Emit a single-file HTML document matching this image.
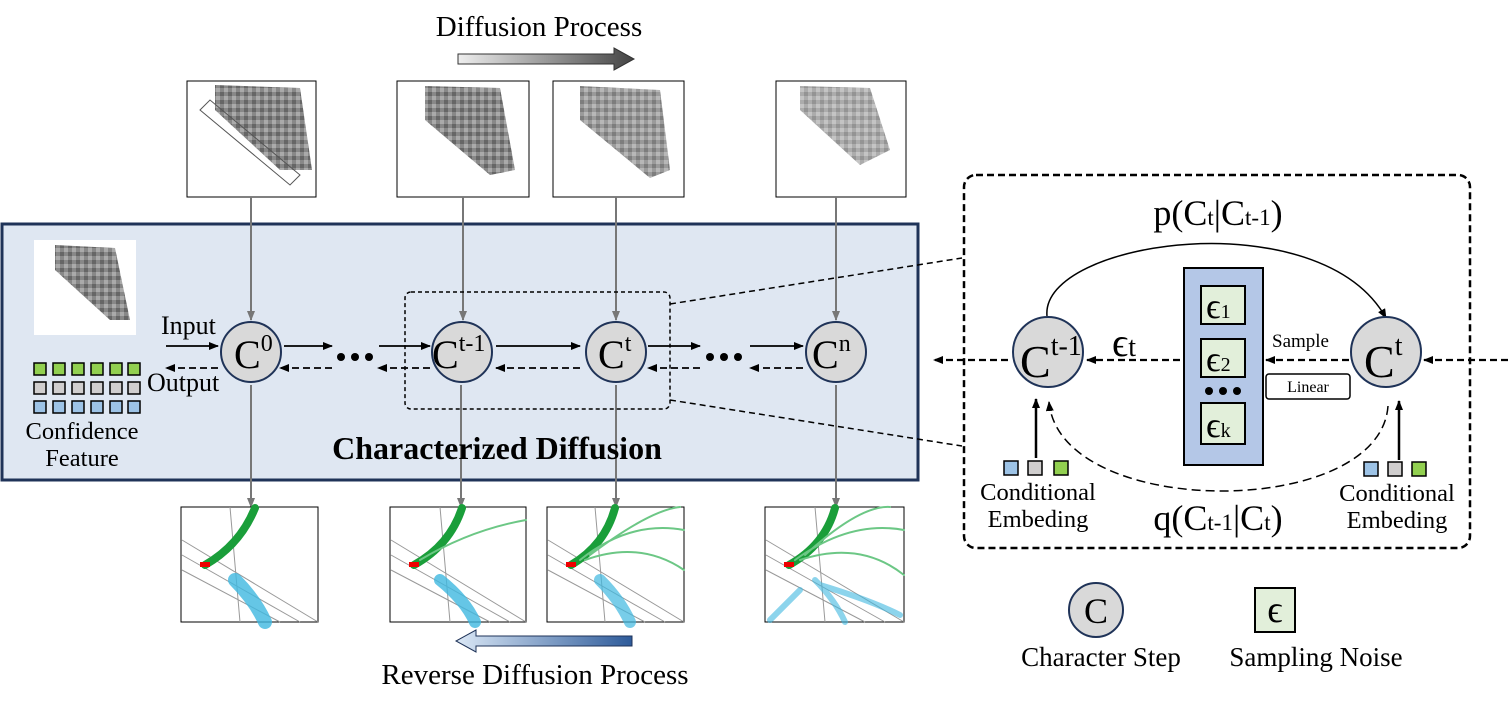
<!DOCTYPE html>
<html><head><meta charset="utf-8"><style>
html,body{margin:0;padding:0;background:#fff}
svg{display:block}
text{font-family:"Liberation Serif",serif;fill:#000}
</style></head><body>
<svg width="1508" height="710" viewBox="0 0 1508 710" xmlns="http://www.w3.org/2000/svg">
<defs>
<marker id="ah" markerWidth="10" markerHeight="8" refX="9" refY="4" orient="auto" markerUnits="userSpaceOnUse"><path d="M0,0 L10,4 L0,8 Z" fill="#000"/></marker>
<marker id="ag" markerWidth="10" markerHeight="8" refX="9" refY="4" orient="auto" markerUnits="userSpaceOnUse"><path d="M0,0 L10,4 L0,8 Z" fill="#777"/></marker>
<linearGradient id="g1" x1="0" x2="1"><stop offset="0" stop-color="#eee"/><stop offset="1" stop-color="#444"/></linearGradient>
<linearGradient id="g2" x1="0" x2="1"><stop offset="0" stop-color="#dbe8f6"/><stop offset="1" stop-color="#2e5b9a"/></linearGradient>
<pattern id="pm" width="8" height="8" patternUnits="userSpaceOnUse"><rect width="8" height="8" fill="#888"/><rect width="4" height="4" fill="#aaa"/><rect x="4" y="4" width="4" height="4" fill="#666"/></pattern>
</defs>

<text x="539" y="36" font-size="29" text-anchor="middle">Diffusion Process</text>
<path d="M458,54 H614 V48 L634,59 L614,70 V64 H458 Z" fill="url(#g1)" stroke="#333"/>

<g stroke="#000" fill="#fff">
<rect x="187" y="81" width="129" height="116"/>
<rect x="397" y="81" width="132" height="116"/>
<rect x="553" y="81" width="131" height="116"/>
<rect x="776" y="81" width="130" height="116"/>
</g>
<polygon points="215,85 300,88 312,170 280,170 215,110" fill="url(#pm)"/>
<polygon points="200,110 290,185 300,175 210,100" fill="none" stroke="#555"/>
<polygon points="425,86 500,88 515,170 490,175 425,120" fill="url(#pm)"/>
<polygon points="580,86 660,90 670,170 650,178 580,120" fill="url(#pm)" opacity="0.85"/>
<polygon points="800,86 870,88 890,150 860,165 800,110" fill="url(#pm)" opacity="0.7"/>

<rect x="2" y="224" width="916" height="256" fill="#dfe7f2" stroke="#1f3358" stroke-width="3"/>
<rect x="34" y="240" width="102" height="95" fill="#fff"/>
<polygon points="55,245 115,248 130,320 110,320 55,270" fill="url(#pm)"/>

<g stroke="#777" stroke-width="2" marker-end="url(#ag)">
<line x1="251" y1="197" x2="251" y2="320"/>
<line x1="463" y1="197" x2="463" y2="320"/>
<line x1="616" y1="197" x2="616" y2="320"/>
<line x1="836" y1="197" x2="836" y2="320"/>
<line x1="251" y1="385" x2="251" y2="507"/>
<line x1="461" y1="385" x2="461" y2="507"/>
<line x1="616" y1="385" x2="616" y2="507"/>
<line x1="836" y1="385" x2="836" y2="507"/>
</g>

<g stroke="#000" stroke-width="1.5">
<g fill="#92d050"><rect x="34" y="363" width="12" height="12"/><rect x="53" y="363" width="12" height="12"/><rect x="72" y="363" width="12" height="12"/><rect x="91" y="363" width="12" height="12"/><rect x="110" y="363" width="12" height="12"/><rect x="128" y="363" width="12" height="12"/></g>
<g fill="#d0cece"><rect x="34" y="382" width="12" height="12"/><rect x="53" y="382" width="12" height="12"/><rect x="72" y="382" width="12" height="12"/><rect x="91" y="382" width="12" height="12"/><rect x="110" y="382" width="12" height="12"/><rect x="128" y="382" width="12" height="12"/></g>
<g fill="#9dc3e6"><rect x="34" y="401" width="12" height="12"/><rect x="53" y="401" width="12" height="12"/><rect x="72" y="401" width="12" height="12"/><rect x="91" y="401" width="12" height="12"/><rect x="110" y="401" width="12" height="12"/><rect x="128" y="401" width="12" height="12"/></g>
</g>
<text x="82" y="439" font-size="24.5" text-anchor="middle">Confidence</text>
<text x="82" y="466" font-size="24.5" text-anchor="middle">Feature</text>
<text x="161" y="334" font-size="26">Input</text>
<text x="147" y="391" font-size="26">Output</text>

<rect x="405" y="292" width="265" height="117" rx="6" fill="none" stroke="#000" stroke-width="1.5" stroke-dasharray="4,3"/>

<g stroke="#000" stroke-width="1.8" marker-end="url(#ah)">
<line x1="166" y1="346" x2="218" y2="346"/>
<line x1="284" y1="346" x2="332" y2="346"/>
<line x1="379" y1="346" x2="430" y2="346"/>
<line x1="496" y1="346" x2="580" y2="346"/>
<line x1="648" y1="346" x2="700" y2="346"/>
<line x1="750" y1="346" x2="803" y2="346"/>
</g>
<g stroke="#000" stroke-width="1.8" stroke-dasharray="7,4" marker-end="url(#ah)">
<line x1="218" y1="368" x2="166" y2="368"/>
<line x1="332" y1="368" x2="280" y2="368"/>
<line x1="430" y1="368" x2="378" y2="368"/>
<line x1="580" y1="368" x2="496" y2="368"/>
<line x1="700" y1="368" x2="648" y2="368"/>
<line x1="803" y1="368" x2="750" y2="368"/>
</g>
<g fill="#000"><circle cx="341" cy="357" r="4"/><circle cx="355" cy="357" r="4"/><circle cx="369" cy="357" r="4"/>
<circle cx="710" cy="357" r="4"/><circle cx="724" cy="357" r="4"/><circle cx="738" cy="357" r="4"/></g>

<g fill="#d9d9d9" stroke="#1f3358" stroke-width="2">
<circle cx="251" cy="352" r="30"/><circle cx="462" cy="352" r="30"/><circle cx="616" cy="352" r="30"/><circle cx="836" cy="352" r="30"/>
</g>
<text x="234" y="368" font-size="40">C<tspan font-size="24" dy="-17">0</tspan></text>
<text x="432" y="368" font-size="40">C<tspan font-size="24" dy="-17">t-1</tspan></text>
<text x="598" y="368" font-size="40">C<tspan font-size="24" dy="-17">t</tspan></text>
<text x="812" y="368" font-size="40">C<tspan font-size="24" dy="-17">n</tspan></text>
<text x="497" y="459" font-size="32" font-weight="bold" text-anchor="middle">Characterized Diffusion</text>

<g stroke="#000" fill="#fff">
<rect x="181" y="507" width="137" height="115"/>
<rect x="390" y="507" width="136" height="115"/>
<rect x="547" y="507" width="137" height="115"/>
<rect x="765" y="507" width="139" height="115"/>
</g>
<g stroke="#999" stroke-width="1" fill="none">
<path d="M182,540 L318,622 M182,555 L300,622 M182,570 L280,622 M230,507 L240,622"/>
<path d="M391,540 L526,622 M391,555 L510,622 M391,570 L490,622 M440,507 L450,622"/>
<path d="M548,540 L684,622 M548,555 L665,622 M548,570 L645,622 M595,507 L605,622"/>
<path d="M766,540 L904,622 M766,555 L885,622 M766,570 L865,622 M815,507 L825,622"/>
</g>
<g fill="none" stroke-linecap="round">
<path d="M205,565 Q240,545 255,508" stroke="#1a9e3a" stroke-width="8"/>
<path d="M235,580 Q255,600 265,622" stroke="#3fb8e0" stroke-width="14" opacity="0.8"/>
<path d="M414,565 Q450,545 462,508" stroke="#1a9e3a" stroke-width="8"/>
<path d="M420,560 Q470,530 526,520" stroke="#6cc785" stroke-width="2"/>
<path d="M440,580 Q465,600 475,622" stroke="#3fb8e0" stroke-width="12" opacity="0.8"/>
<path d="M571,565 Q605,545 615,508" stroke="#1a9e3a" stroke-width="8"/>
<path d="M580,560 Q630,520 684,530 M585,560 Q640,540 684,570 M590,555 Q650,510 680,507" stroke="#6cc785" stroke-width="2"/>
<path d="M600,580 Q620,600 630,622" stroke="#3fb8e0" stroke-width="12" opacity="0.7"/>
<path d="M789,565 Q825,545 835,508" stroke="#1a9e3a" stroke-width="8"/>
<path d="M795,560 Q850,520 904,530 M800,560 Q860,540 904,575 M805,555 Q860,505 890,507" stroke="#6cc785" stroke-width="2"/>
<path d="M815,580 Q835,600 845,622 M800,590 Q780,610 770,620 M820,585 Q870,600 900,615" stroke="#3fb8e0" stroke-width="6" opacity="0.6"/>
</g>
<rect x="200" y="562" width="10" height="5" fill="#e00"/>
<rect x="409" y="562" width="10" height="5" fill="#e00"/>
<rect x="566" y="562" width="10" height="5" fill="#e00"/>
<rect x="784" y="562" width="10" height="5" fill="#e00"/>

<path d="M632,636 H476 V630 L456,641 L476,652 V646 H632 Z" fill="url(#g2)" stroke="#1f3358"/>
<text x="535" y="684" font-size="29" text-anchor="middle">Reverse Diffusion Process</text>

<g stroke="#000" stroke-width="1.5" stroke-dasharray="6,4">
<line x1="670" y1="304" x2="962" y2="258"/>
<line x1="670" y1="400" x2="962" y2="446"/>
</g>

<rect x="964" y="175" width="506" height="373" rx="12" fill="none" stroke="#000" stroke-width="2.5" stroke-dasharray="7,4"/>
<text x="1218" y="225" font-size="36" text-anchor="middle">p(C<tspan font-size="23">t</tspan>|C<tspan font-size="23">t-1</tspan>)</text>
<path d="M1047,316 C1040,240 1320,200 1386,318" fill="none" stroke="#000" stroke-width="1.5" marker-end="url(#ah)"/>
<path d="M1388,406 C1380,520 1060,520 1049,402" fill="none" stroke="#000" stroke-width="1.5" stroke-dasharray="9,5" marker-end="url(#ah)"/>
<text x="1218" y="530" font-size="36" text-anchor="middle">q(C<tspan font-size="23">t-1</tspan>|C<tspan font-size="23">t</tspan>)</text>

<rect x="1184" y="268" width="79" height="197" fill="#b4c7e7" stroke="#000" stroke-width="2"/>
<g fill="#e2efda" stroke="#000" stroke-width="2">
<rect x="1201" y="286" width="44" height="38"/><rect x="1201" y="339" width="44" height="38"/><rect x="1201" y="403" width="44" height="41"/>
</g>
<g fill="#000"><circle cx="1209" cy="391" r="4"/><circle cx="1223" cy="391" r="4"/><circle cx="1237" cy="391" r="4"/></g>
<text x="1206" y="318" font-size="36">ϵ<tspan font-size="20">1</tspan></text>
<text x="1206" y="371" font-size="36">ϵ<tspan font-size="20">2</tspan></text>
<text x="1206" y="437" font-size="36">ϵ<tspan font-size="20">k</tspan></text>

<g fill="#d9d9d9" stroke="#1f3358" stroke-width="2">
<circle cx="1048" cy="352" r="35"/><circle cx="1386" cy="352" r="35"/>
</g>
<text x="1020" y="377" font-size="46">C<tspan font-size="28" dy="-22">t-1</tspan></text>
<text x="1364" y="377" font-size="46">C<tspan font-size="28" dy="-22">t</tspan></text>

<g stroke="#000" stroke-width="2.2" stroke-dasharray="7,4" marker-end="url(#ah)">
<line x1="1180" y1="360" x2="1087" y2="360"/>
<line x1="1349" y1="360" x2="1266" y2="360"/>
<line x1="1508" y1="360" x2="1424" y2="360"/>
<line x1="1008" y1="360" x2="934" y2="360"/>
</g>
<text x="1112" y="356" font-size="40">ϵ<tspan font-size="28">t</tspan></text>
<text x="1272" y="347" font-size="19">Sample</text>
<rect x="1266" y="374" width="84" height="25" rx="3" fill="#fff" stroke="#000" stroke-width="1.5"/>
<text x="1308" y="392" font-size="16" text-anchor="middle">Linear</text>

<g stroke="#000" stroke-width="2.5" marker-end="url(#ah)">
<line x1="1036" y1="458" x2="1036" y2="399"/>
<line x1="1399" y1="460" x2="1399" y2="401"/>
</g>
<g stroke="#000" stroke-width="1.5">
<rect x="1004" y="461" width="14" height="14" fill="#9dc3e6"/><rect x="1028" y="461" width="14" height="14" fill="#d0cece"/><rect x="1054" y="461" width="14" height="14" fill="#92d050"/>
<rect x="1364" y="462" width="14" height="14" fill="#9dc3e6"/><rect x="1388" y="462" width="14" height="14" fill="#d0cece"/><rect x="1412" y="462" width="14" height="14" fill="#92d050"/>
</g>
<text x="1038" y="500" font-size="24.5" text-anchor="middle">Conditional</text>
<text x="1038" y="527" font-size="24.5" text-anchor="middle">Embeding</text>
<text x="1397" y="501" font-size="24.5" text-anchor="middle">Conditional</text>
<text x="1397" y="528" font-size="24.5" text-anchor="middle">Embeding</text>

<circle cx="1096" cy="610" r="27" fill="#d9d9d9" stroke="#1f3358" stroke-width="2"/>
<text x="1096" y="623" font-size="36" text-anchor="middle">C</text>
<rect x="1255" y="588" width="40" height="44" fill="#e2efda" stroke="#000" stroke-width="2"/>
<text x="1275" y="622" font-size="38" text-anchor="middle">ϵ</text>
<text x="1101" y="666" font-size="27" text-anchor="middle">Character Step</text>
<text x="1316" y="666" font-size="27" text-anchor="middle">Sampling Noise</text>
</svg>
</body></html>
